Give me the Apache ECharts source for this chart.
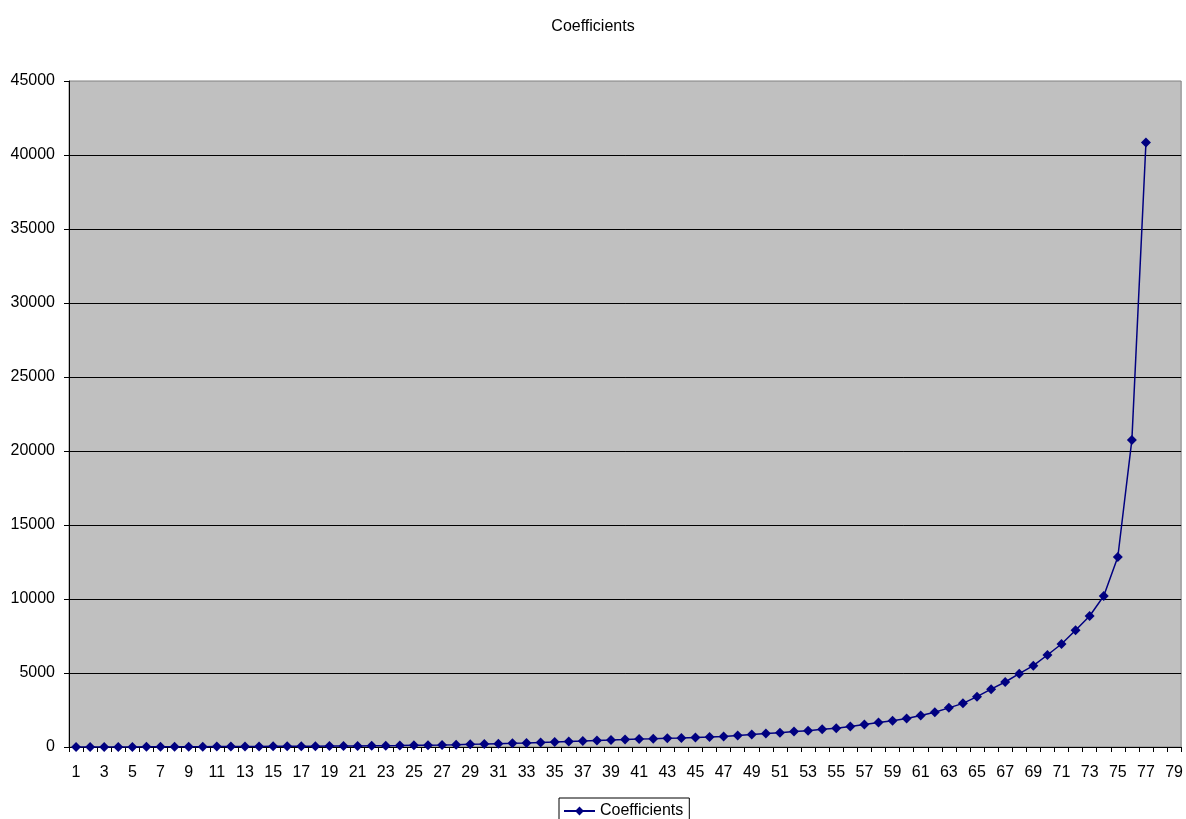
<!DOCTYPE html>
<html>
<head>
<meta charset="utf-8">
<script src="https://cdn.jsdelivr.net/npm/echarts@6/dist/echarts.min.js"></script>
<style>html,body{margin:0;padding:0;background:#fff}#c{width:1186px;height:819px}</style>
</head>
<body>
<div id="c"></div>
<script>
const categories = [];
for (let i = 1; i <= 79; i++) categories.push(String(i));
const seriesName = 'Coefficients';
const values = [
  0, 1, 3, 5, 8, 10, 13, 16, 20, 23,
  27, 31, 35, 40, 44, 49, 54, 59, 65, 70,
  76, 82, 88, 95, 110, 125, 138, 155, 180, 200,
  225, 245, 270, 310, 335, 375, 405, 445, 470, 500,
  535, 560, 590, 615, 650, 680, 715, 785, 850, 915,
  965, 1050, 1104, 1194, 1275, 1385, 1520, 1655, 1779, 1925,
  2130, 2342, 2645, 2950, 3400, 3910, 4392, 4955, 5495, 6216,
  6959, 7883, 8851, 10200, 12838, 20750, 40850
];
const yTicks = [0, 5000, 10000, 15000, 20000, 25000, 30000, 35000, 40000, 45000];

const FONT = 'Liberation Sans, Arial, sans-serif';
const chart = echarts.init(document.getElementById('c'));
chart.setOption({
  animation: false,
  title: {
    text: 'Coefficients', left: 'center', top: 14,
    textStyle: { fontFamily: FONT, fontSize: 16, fontWeight: 'normal', color: '#000' }
  },
  grid: {
    left: 69, right: 3, top: 81, bottom: 72,
    show: true, backgroundColor: '#C0C0C0', borderColor: '#808080', borderWidth: 1
  },
  legend: {
    top: 798, left: 559,
    data: [seriesName],
    borderColor: '#000', borderWidth: 1, borderRadius: 0, padding: [5, 6, 3, 4],
    itemWidth: 31, itemHeight: 11, itemGap: 5,
    textStyle: { fontFamily: FONT, fontSize: 16, color: '#000', padding: [0, 0, 0, 0] }
  },
  xAxis: {
    type: 'category', data: categories, boundaryGap: true,
    axisLine: { lineStyle: { color: '#000', width: 1 } },
    axisTick: { show: true, interval: 0, length: 5, lineStyle: { color: '#000' } },
    axisLabel: { interval: 1, margin: 18, fontFamily: FONT, fontSize: 16, color: '#000' },
    splitLine: { show: false }
  },
  yAxis: {
    type: 'value', min: yTicks[0], max: yTicks[yTicks.length - 1], interval: 5000,
    axisLine: { show: true, lineStyle: { color: '#000', width: 1 } },
    axisTick: { show: true, length: 5, lineStyle: { color: '#000' } },
    axisLabel: { margin: 14, fontFamily: FONT, fontSize: 16, color: '#000', formatter: v => String(v) },
    splitLine: { show: true, showMaxLine: false, lineStyle: { color: '#000', width: 1 } }
  },
  series: [{
    name: seriesName, type: 'line', data: values,
    symbol: 'diamond', symbolSize: 10, showSymbol: true, showAllSymbol: true,
    lineStyle: { color: '#000080', width: 1.5 },
    itemStyle: { color: '#000080' }
  }]
});
</script>
</body>
</html>
